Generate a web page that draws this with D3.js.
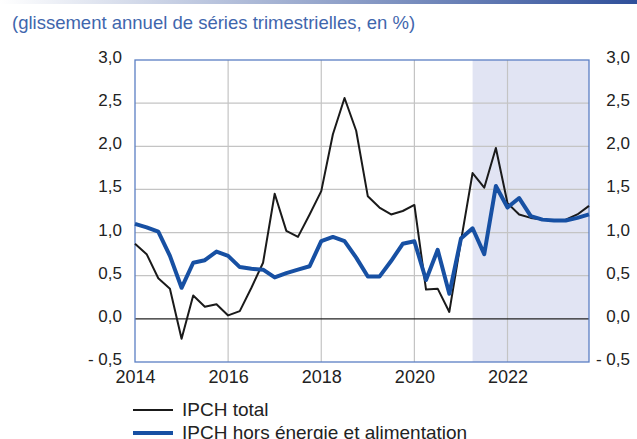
<!DOCTYPE html>
<html lang="fr">
<head>
<meta charset="utf-8">
<title>IPCH</title>
<script src="https://cdn.jsdelivr.net/npm/d3@7/dist/d3.min.js"></script>
<style>
  body { margin: 0; background: #fff; }
  svg { display: block; font-family: "Liberation Sans", Arial, sans-serif; }
</style>
</head>
<body>
<svg id="chart" width="637" height="439"></svg>
<script>
// quarterly points, 2014 Q1 .. 2023 Q4
const quarters = d3.range(40).map(i => 2014 + i / 4);

const ipchTotal = [
  0.87, 0.75, 0.47, 0.35, -0.23, 0.27, 0.14, 0.17,
  0.04, 0.09, 0.36, 0.65, 1.45, 1.02, 0.95, 1.21,
  1.48, 2.14, 2.56, 2.18, 1.42, 1.29, 1.21, 1.25,
  1.32, 0.34, 0.35, 0.08, 0.90, 1.69, 1.52, 1.98,
  1.34, 1.21, 1.17, 1.15, 1.14, 1.15, 1.21, 1.31
];

const ipchCore = [
  1.10, 1.06, 1.01, 0.73, 0.36, 0.65, 0.68, 0.78,
  0.73, 0.60, 0.58, 0.57, 0.48, 0.53, 0.57, 0.61,
  0.90, 0.95, 0.90, 0.71, 0.49, 0.49, 0.67, 0.87,
  0.90, 0.45, 0.80, 0.29, 0.93, 1.05, 0.75, 1.54,
  1.29, 1.40, 1.19, 1.15, 1.14, 1.14, 1.17, 1.21
];

const yTicks = [-0.5, 0, 0.5, 1, 1.5, 2, 2.5, 3];
const xTicks = [2014, 2016, 2018, 2020, 2022];
const projection = [2021.25, 2023.75];
const legendLabels = ["IPCH total", "IPCH hors énergie et alimentation"];

const margin = {left: 135, right: 48, top: 60, bottom: 77};
const W = 637, H = 439;
const svg = d3.select("#chart");

const x = d3.scaleLinear().domain([2014, 2023.75]).range([margin.left, W - margin.right]);
const y = d3.scaleLinear().domain([-0.5, 3]).range([H - margin.bottom, margin.top]);

// top gradient strip
const defs = svg.append("defs");
const grad = defs.append("linearGradient").attr("id", "topbar");
grad.append("stop").attr("offset", "0%").attr("stop-color", "#ffffff");
grad.append("stop").attr("offset", "100%").attr("stop-color", "#2f4f9a");
svg.append("rect").attr("x", 0).attr("y", 0).attr("width", W).attr("height", 4)
  .attr("fill", "url(#topbar)");

svg.append("text")
  .attr("x", 12).attr("y", 29)
  .attr("fill", "#3f66ad")
  .attr("font-size", 18.5)
  .text("(glissement annuel de séries trimestrielles, en %)");

// projection shading
svg.append("rect")
  .attr("x", x(projection[0])).attr("y", y(3))
  .attr("width", x(projection[1]) - x(projection[0]))
  .attr("height", y(-0.5) - y(3))
  .attr("fill", "#e1e4f3");

// grid
svg.append("g").selectAll("line").data(yTicks.filter(d => d !== 0 && d !== 3 && d !== -0.5))
  .join("line")
  .attr("x1", x.range()[0]).attr("x2", x.range()[1])
  .attr("y1", d => y(d)).attr("y2", d => y(d))
  .attr("stroke", "#c4c4c4").attr("stroke-width", 1.2);

svg.append("g").selectAll("line").data(xTicks.slice(1))
  .join("line")
  .attr("x1", d => x(d)).attr("x2", d => x(d))
  .attr("y1", y(3)).attr("y2", y(-0.5))
  .attr("stroke", "#c4c4c4").attr("stroke-width", 1.2);

svg.append("line")
  .attr("x1", x.range()[0]).attr("x2", x.range()[1])
  .attr("y1", y(0)).attr("y2", y(0))
  .attr("stroke", "#222").attr("stroke-width", 1.3);

// frame
svg.append("rect")
  .attr("x", x.range()[0]).attr("y", y(3))
  .attr("width", x.range()[1] - x.range()[0])
  .attr("height", y(-0.5) - y(3))
  .attr("fill", "none").attr("stroke", "#5b7fc4").attr("stroke-width", 1.3);

// axes (labels only)
const fmt = d => (d < 0 ? "- " : "") + d3.format(".1f")(Math.abs(d)).replace(".", ",");

const leftAxis = svg.append("g")
  .attr("transform", `translate(${x.range()[0] - 10},-3)`)
  .call(d3.axisLeft(y).tickValues(yTicks).tickFormat(fmt).tickSize(0));
const rightAxis = svg.append("g")
  .attr("transform", `translate(633,-3)`)
  .call(d3.axisLeft(y).tickValues(yTicks).tickFormat(fmt).tickSize(0));
const bottomAxis = svg.append("g")
  .attr("transform", `translate(0,${y(-0.5) + 3})`)
  .call(d3.axisBottom(x).tickValues(xTicks).tickFormat(d3.format("d")).tickSize(0));

[leftAxis, rightAxis, bottomAxis].forEach(a => {
  a.select(".domain").remove();
  a.selectAll("text").attr("fill", "#222")
    .attr("font-family", "'Liberation Sans', Arial, sans-serif");
});
leftAxis.selectAll("text").attr("dx", 0).attr("font-size", 17);
rightAxis.selectAll("text").attr("dx", 0).attr("font-size", 17);
bottomAxis.selectAll("text").attr("dy", "0.85em").attr("font-size", 18);

// lines
const line = d3.line().x((d, i) => x(quarters[i])).y(d => y(d));

svg.append("path").datum(ipchTotal)
  .attr("d", line).attr("fill", "none")
  .attr("stroke", "#1a1a1a").attr("stroke-width", 2).attr("stroke-linejoin", "round");

svg.append("path").datum(ipchCore)
  .attr("d", line).attr("fill", "none")
  .attr("stroke", "#1750a3").attr("stroke-width", 4).attr("stroke-linejoin", "round");

// legend
const legend = svg.append("g");
const lcol = ["#1a1a1a", "#1750a3"], lw = [2, 4];
legendLabels.forEach((lab, i) => {
  const ly = 410 + i * 23;
  legend.append("line").attr("x1", 133).attr("x2", 173).attr("y1", ly).attr("y2", ly)
    .attr("stroke", lcol[i]).attr("stroke-width", lw[i]);
  legend.append("text").attr("x", 182).attr("y", ly + 6)
    .attr("font-size", 19).attr("fill", "#222").text(lab);
});
</script>
</body>
</html>
